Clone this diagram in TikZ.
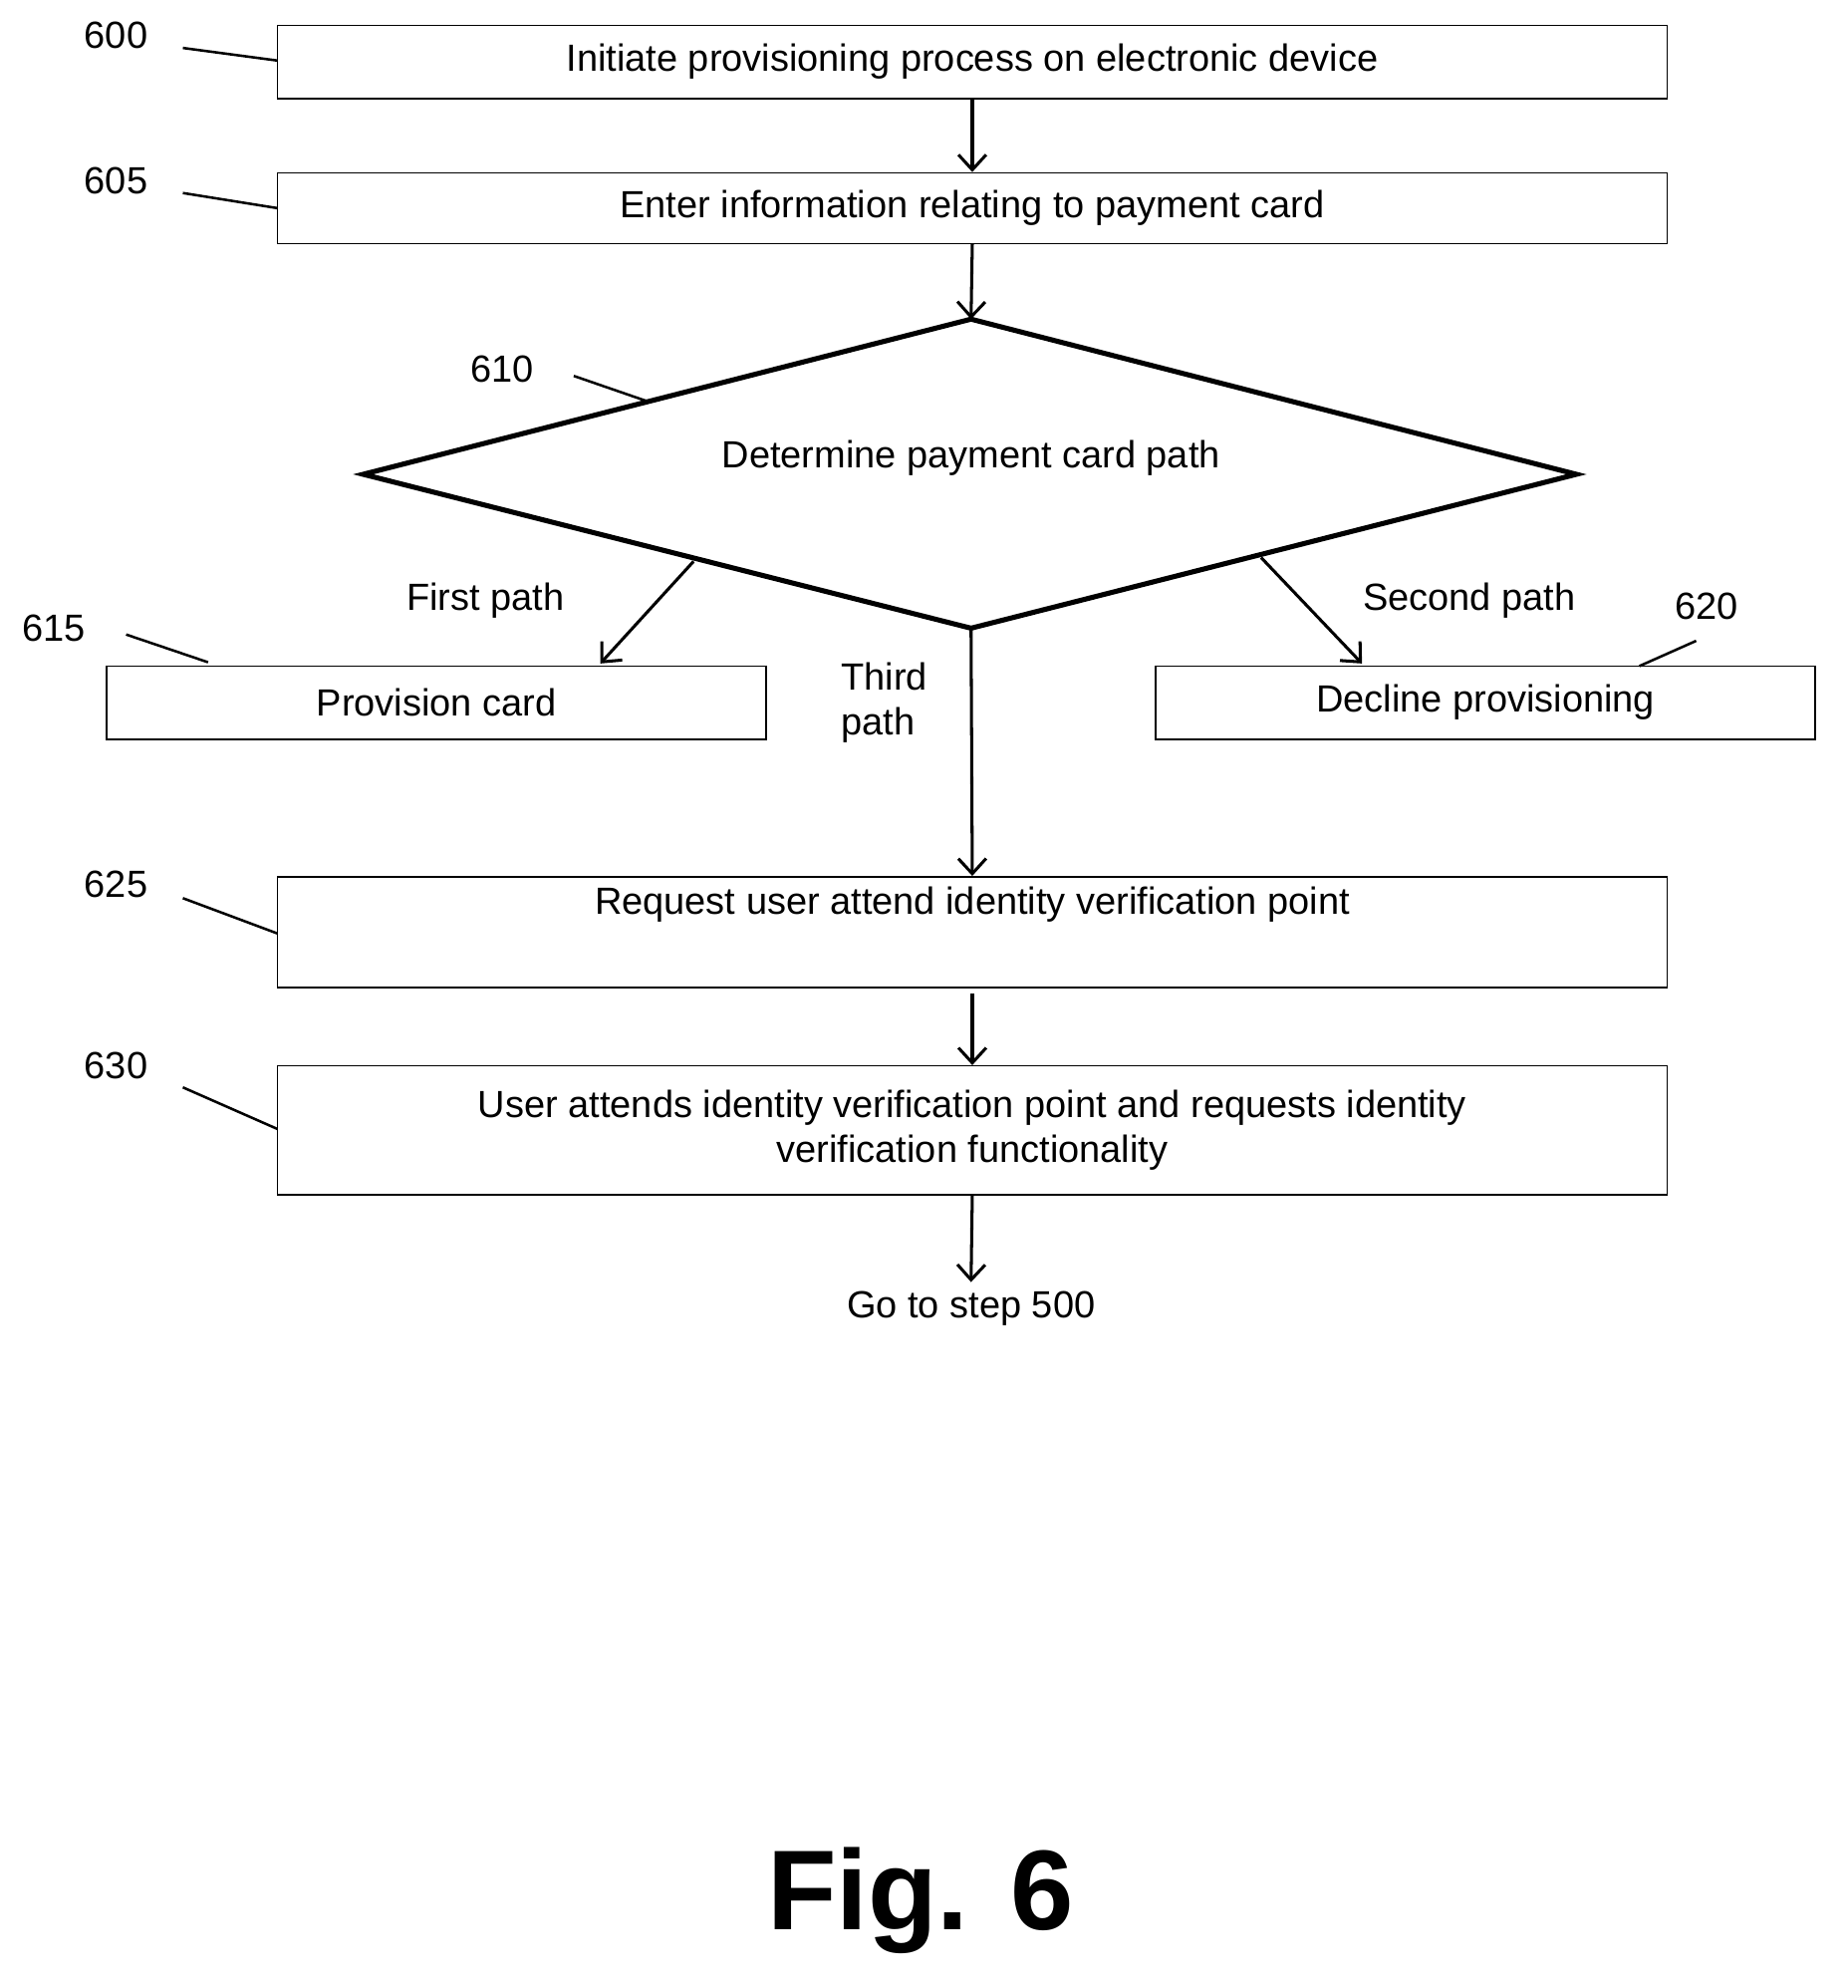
\documentclass[tikz,border=0pt]{standalone}
\usepackage{fontspec}
\setmainfont{Liberation Sans}
\usetikzlibrary{arrows.meta}
\begin{document}
\begin{tikzpicture}[x=0.5pt,y=-0.5pt,
  box/.style={draw,line width=0.6pt,minimum width=551pt,inner sep=0pt,font=\fontsize{15}{18}\selectfont},
  sbox/.style={draw,line width=0.6pt,minimum width=261.5pt,minimum height=29pt,inner sep=0pt,font=\fontsize{15}{18}\selectfont},
  lbl/.style={font=\fontsize{15}{18}\selectfont},
  lead/.style={line width=1pt},
  arr/.style={line width=1.2pt,-{Straight Barb[length=6pt,width=11pt]}}]
\useasboundingbox (0,0) rectangle (1465,1576);
\node[box,minimum height=29pt] (b600) at (771,49) {Initiate provisioning process on electronic device};
\node[box,minimum height=28pt] (b605) at (771,165) {Enter information relating to payment card};
\coordinate (dt) at (770,253); \coordinate (dl) at (288,376);
\coordinate (dr) at (1250,376); \coordinate (db) at (770,498);
\draw[line width=2pt] (dt)--(dr)--(db)--(dl)--cycle;
\node[lbl] (dtext) at (770,363) {Determine payment card path};
\node[sbox] (b615) at (346,557) {Provision card};
\node[sbox] (b620) at (1178,557) {Decline provisioning};
\node[box,minimum height=44pt,text depth=25pt] (b625) at (771,739) {Request user attend identity verification point};
\node[box,minimum height=51pt,align=center,font=\fontsize{15}{18}\selectfont] (b630) at (771,896) {User attends identity verification point and requests identity\\verification functionality};
\node[lbl] (go) at (770,1037) {Go to step 500};
\node[font=\bfseries\fontsize{45}{50}\selectfont] (fig) at (730,1507) {Fig. 6};
% labels
\node[lbl] (l600) at (92,28) {600}; \coordinate (c600) at (145,38);
\node[lbl] (l605) at (92,143) {605}; \coordinate (c605) at (145,153);
\node[lbl] (l610) at (398,293) {610}; \coordinate (c610) at (455,298); \coordinate (e610) at (513,318);
\node[lbl] (l615) at (43,498) {615}; \coordinate (c615) at (100,503); \coordinate (e615) at (165,525);
\node[lbl] (l620) at (1353,481) {620}; \coordinate (c620) at (1345,508); \coordinate (e620) at (1300,528);
\node[lbl] (l625) at (92,701) {625}; \coordinate (c625) at (145,712);
\node[lbl] (l630) at (92,845) {630}; \coordinate (c630) at (145,862);
\draw[lead] (c600)--(220,48);
\draw[lead] (c605)--(220,165);
\draw[lead] (c610)--(e610);
\draw[lead] (c615)--(e615);
\draw[lead] (c620)--(e620);
\draw[lead] (c625)--(220,740);
\draw[lead] (c630)--(220,895);
% arrows
\draw[arr] (b600.south)--(b605.north);
\draw[arr] (b605.south)--(dt);
\coordinate (fp) at (550,445); \coordinate (sp) at (1000,442);
\draw[arr] (fp)--(476,526);
\draw[arr] (sp)--(1080,526);
\draw[arr] (db)--(b625.north);
\draw[arr] ([yshift=-2pt]b625.south)--(b630.north);
\draw[arr] (b630.south)--(go.north);
\node[lbl] (t1) at (385,476) {First path};
\node[lbl] (t2) at (1165,476) {Second path};
\node[lbl,align=left,anchor=north west] (t3) at (660,518) {Third\\path};
\end{tikzpicture}
\end{document}
